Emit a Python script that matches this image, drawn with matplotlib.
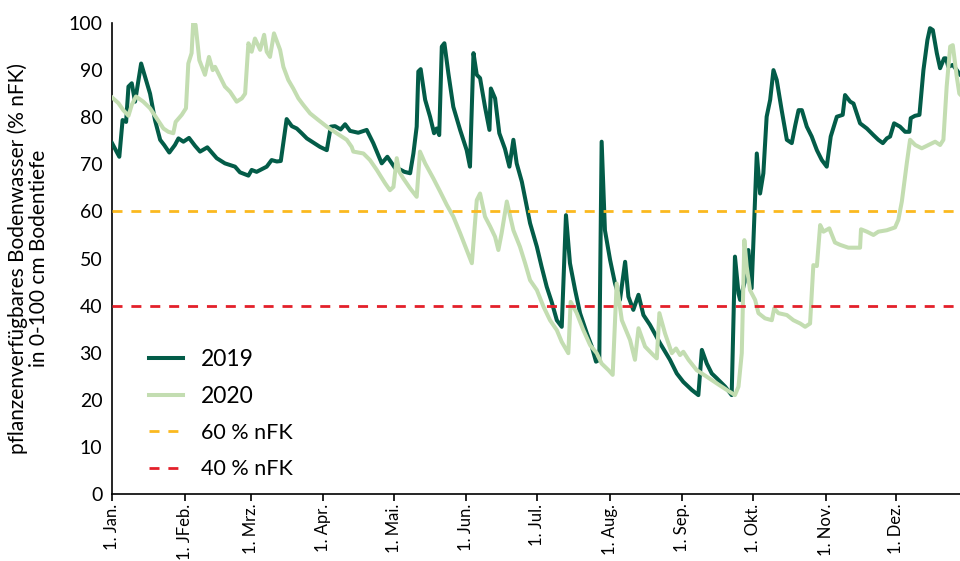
import matplotlib.pyplot as plt

plt.rcParams['font.family'] = ['Lato', 'DejaVu Sans']

# day of year (0 = 1. Jan.) and soil water values (% nFK)
days_2019 = [0, 3.1, 4.5, 6, 7, 8.4, 9.8, 12.4, 16.2, 18.3, 20.5, 22.2, 24.4, 26.8, 28.3,
             30.4, 32.8, 35.4, 37.5, 40.6, 44.6, 48.1, 52.4, 54.5, 58.1, 59.5, 61.6, 65.9,
             68, 70.2, 71.9, 74.4, 76.6, 78.7, 80.8, 83, 85.8, 88.6, 91.5, 93.2, 95, 97.4,
             99.3, 101.4, 104.9, 108.5, 111.3, 114.9, 117.3, 119.2, 120.6, 122.7, 124.6,
             127, 128.4, 129.8, 130.5, 131.5, 133.4, 135.5, 137.2, 138.3, 139.4, 140.5,
             141.6, 143.3, 145.4, 148.3, 151.1, 152.5, 154, 155.4, 156.8, 158.9, 160.8,
             161.4, 163.2, 165, 167.4, 169.3, 171, 172.4, 174.6, 176, 178.1, 181, 183,
             185.2, 187.3, 189.5, 191.6, 193.4, 195.1, 197.3, 199.4, 202.3, 204.4, 206.2,
             207.6, 208.6, 210, 212.2, 214.3, 216.4, 218.6, 220, 222.1, 224.3, 226.4,
             229.2, 233.5, 237.7, 240.6, 243.4, 247, 249.8, 251.3, 253.4, 255.5, 257.6,
             261.2, 264, 265.4, 266.9, 267.6, 269.5, 271.1, 272.5, 274.7, 276.1, 277.5,
             278.9, 280.4, 281.8, 283.2, 285.3, 287.5, 289.6, 291.1, 292.5, 293.9, 296,
             298.1, 300.3, 302.4, 304.5, 306.2, 308.8, 311.3, 312.3, 314.5, 315.9, 318.7,
             321.6, 324.4, 326.5, 328.4, 330.1, 331.5, 333.2, 335.7, 337.9, 339.7, 340.3,
             342.1, 344, 345.7, 347.4, 348.5, 349.7, 351.4, 352.8, 354.5, 355.3, 356.3,
             358.2, 359.9, 361.3, 362]
vals_2019 = [74.5, 71.6, 79.4, 79, 86.5, 87.2, 83.3, 91.4, 85, 79.4, 75.2, 74.1, 72.5, 74.1,
             75.5, 74.8, 75.6, 73.9, 72.7, 73.6, 71.3, 70.2, 69.5, 68.3, 67.6, 68.8, 68.4,
             69.5, 70.9, 70.6, 70.7, 79.6, 78.1, 77.6, 76.6, 75.5, 74.6, 73.7, 73, 78,
             78.1, 77.4, 78.5, 77.1, 76.7, 77.3, 74.5, 70.2, 71.6, 70.2, 69.2, 68.9, 68.4,
             68.1, 72.3, 78, 89.7, 90.2, 83.7, 80.1, 76.6, 77.6, 76.2, 95, 95.7, 89.3,
             82.2, 77.3, 73, 69.5, 93.6, 89, 88.3, 82.2, 77.3, 86.1, 84, 76.6, 73.3, 69.5,
             75.2, 70.2, 66.3, 62.8, 57.5, 52.5, 48.3, 44, 40.8, 36.9, 35.5, 59.2, 49,
             43.3, 38.4, 34.1, 31.3, 28.1, 28.5, 74.8, 56, 49.7, 44.7, 41.2, 49.3, 41.9,
             39.1, 42.3, 38, 35.9, 32, 28.5, 25.6, 23.8, 22.1, 21, 30.6, 27.7, 25.6, 24.6,
             22.8, 21, 50.4, 42.6, 41.2, 45, 51.8, 43.7, 72.3, 63.8, 68.1, 80.1, 83.7,
             90, 87.9, 81.5, 75.2, 74.5, 78.3, 81.5, 81.5, 78, 75.9, 73, 70.9, 69.5, 75.9,
             80.1, 80.5, 84.7, 83.3, 82.9, 78.7, 77.6, 76.2, 75.2, 74.5, 75.5, 75.9, 78.7,
             78, 76.9, 76.9, 79.8, 80.3, 80.5, 90, 96.4, 98.9, 98.5, 93.6, 90.4, 92.5,
             92.5, 90.7, 91.1, 90, 89, 88.8]

days_2020 = [0, 2.7, 4.8, 7, 8.4, 10.2, 13.3, 16.2, 19, 21.9, 24, 26.1, 27.1, 29.7, 31.5,
             32.5, 33.9, 34.6, 35.6, 37.2, 39.6, 41.3, 42.9, 43.9, 45.3, 48.1, 50.3, 53.1,
             55.3, 56.7, 58.1, 59.5, 60.9, 63.1, 64.8, 65.9, 67.3, 69, 71.6, 73, 75.1,
             77.2, 79.4, 81.5, 84.4, 87.9, 91.5, 95.7, 100, 102.1, 102.8, 107.1, 109.9,
             112.8, 116.3, 118.4, 119.9, 121.3, 122.4, 124.1, 127, 129.8, 131.2, 133.4,
             136.9, 139.8, 142.6, 145.4, 148.3, 151.1, 153.3, 155.4, 156.8, 158.9, 161.1,
             163.2, 164.6, 166, 168.2, 171, 173.8, 176, 178.1, 181, 183.8, 186.6, 189.5,
             191.6, 194.4, 195.4, 198, 200.8, 203.7, 206.5, 208.6, 211.5, 213.3, 215,
             217.2, 220.7, 222.8, 224.3, 227.1, 230.6, 232.1, 233.2, 235.6, 238.5, 240.3,
             242, 243.4, 245.6, 249.1, 253.4, 257.6, 261.9, 265.4, 266.9, 268.3, 269.4,
             270.4, 271.8, 274, 275.4, 278.2, 281.1, 282.1, 283.9, 287.5, 290.3, 293.2,
             295.3, 297.4, 298.8, 300.3, 301.7, 303.1, 305.6, 308, 310.2, 313.7, 318.7,
             319.1, 321.6, 324.4, 326.5, 330.1, 333.6, 335, 336.5, 338.6, 340, 342.2,
             345, 347.8, 350.7, 352.8, 354.2, 355.6, 357.1, 358.2, 359.9, 361, 362]
vals_2020 = [84.2, 83, 81.5, 80.3, 82.6, 84.4, 83.3, 81.9, 79.8, 77.6, 76.9, 76.6, 79, 80.5,
             81.9, 91.4, 93.6, 100.3, 99.6, 92.1, 89, 92.8, 90, 90.7, 89.3, 86.5, 85.4,
             83.3, 84, 85, 95.7, 93.9, 96.7, 94.3, 97.5, 93.9, 92.8, 97.8, 94.3, 90.7,
             87.9, 86.1, 84, 82.6, 80.8, 79.4, 78, 76.6, 75.2, 73.7, 72.7, 72.3, 70.9,
             68.8, 66, 64.5, 65.2, 71.3, 68.4, 67, 64.9, 63.1, 72.7, 70.2, 67, 64.2, 61.4,
             58.9, 55.4, 51.8, 49, 62.4, 63.8, 58.9, 56.8, 54.6, 51.8, 55.4, 62.1, 56,
             52.5, 49, 45.4, 43.3, 39.8, 36.9, 34.8, 32.3, 29.9, 40.8, 38.4, 34.8, 31.6,
             29.9, 27.7, 26.3, 25.3, 44.7, 36.9, 32.7, 28.5, 35.2, 31.3, 29.5, 28.8, 38.4,
             34.1, 29.9, 30.9, 29.5, 30.2, 28.5, 26.3, 24.9, 23.5, 22.1, 21, 22.8, 29.9,
             53.9, 48.3, 43.3, 41.2, 38.4, 37.3, 36.9, 39.4, 38.4, 38, 36.9, 36.2, 35.5,
             36.2, 48.6, 48.4, 57.1, 55.7, 56.4, 53.4, 52.9, 52.3, 52.3, 56.2, 55.7, 55,
             55.7, 56, 56.6, 58.2, 62.1, 70.2, 75.2, 74.1, 73.4, 74.1, 74.8, 74.1, 75.2,
             86.5, 95, 95.3, 88.6, 85, 84.5]

month_days = [0, 31, 59, 90, 120, 151, 181, 212, 243, 273, 304, 334]
month_labels = ['1. Jan.', '1. JFeb.', '1. Mrz.', '1. Apr.', '1. Mai.', '1. Jun.',
                '1. Jul.', '1. Aug.', '1. Sep.', '1. Okt.', '1. Nov.', '1. Dez.']

c2019 = '#035c48'
c2020 = '#c3ddb1'

fig = plt.figure(figsize=(9.6, 5.61), dpi=100)
ax = fig.add_axes([0.1167, 0.1194, 0.8924, 0.8396])

ax.plot(days_2019, vals_2019, color=c2019, lw=2.9, label='2019', zorder=3)
ax.plot(days_2020, vals_2020, color=c2020, lw=2.9, label='2020', zorder=3)
ax.axhline(60, color='#fbb91f', lw=2, ls=(0, (3.6, 3.2)), label='60 % nFK', zorder=4)
ax.axhline(40, color='#e3202a', lw=2, ls=(0, (3.6, 3.2)), label='40 % nFK', zorder=4)

ax.set_xlim(0, 365)
ax.set_ylim(0, 100)
ax.set_yticks(range(0, 101, 10))
ax.set_xticks(month_days)
ax.set_xticklabels(month_labels, rotation=90, fontsize=12)
ax.tick_params(axis='y', length=0, labelsize=14, pad=7)
ax.tick_params(axis='x', length=5, width=1.2, pad=2)
for s in ['top', 'right']:
    ax.spines[s].set_visible(False)
for s in ['left', 'bottom']:
    ax.spines[s].set_linewidth(1.2)

ax.set_ylabel('pflanzenverfügbares Bodenwasser (% nFK)\nin 0-100 cm Bodentiefe',
              fontsize=15, linespacing=1.05, labelpad=14)

leg = ax.legend(loc='upper left', bbox_to_anchor=(0.134, 0.414), bbox_transform=fig.transFigure,
                frameon=False, handlelength=1.55, handletextpad=0.8, labelspacing=0.73,
                fontsize=16)
for t, fs in zip(leg.get_texts(), [16.5, 16.5, 15.5, 15.5]):
    t.set_fontsize(fs)

fig.savefig('out.png', dpi=100)
